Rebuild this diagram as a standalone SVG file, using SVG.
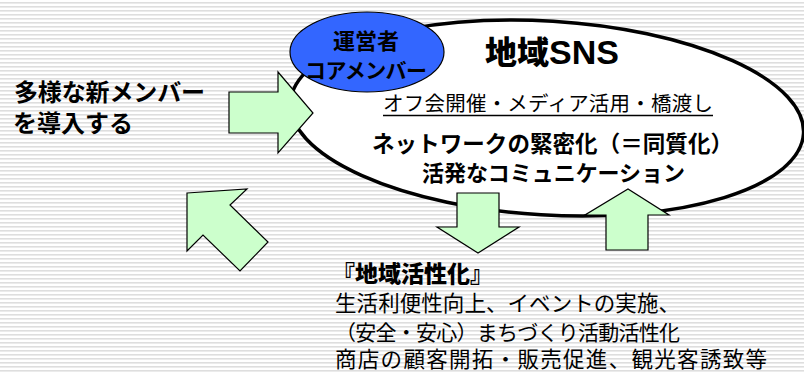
<svg xmlns="http://www.w3.org/2000/svg" width="804" height="372" viewBox="0 0 804 372">
  <defs>
    <pattern id="stripes" x="0" y="0" width="8" height="4" patternUnits="userSpaceOnUse">
      <rect x="0" y="0" width="8" height="4" fill="#ffffff"/>
      <rect x="0" y="2" width="8" height="1.6" fill="#dedede"/>
    </pattern>
  </defs>
  <style>
    text { font-family: "Noto Sans CJK JP", "Noto Sans", sans-serif; fill: #000; }
    .b { font-weight: 700; }
    .xb { font-weight: 900; }
    .lat { font-family: "Liberation Sans", Arial, sans-serif; font-weight: 700; }
    .arrow { fill: #ccffcc; stroke: #000; stroke-width: 1.2; stroke-linejoin: miter; }
  </style>
  <rect x="0" y="0" width="804" height="372" fill="url(#stripes)"/>

  <g id="sns">
    <ellipse cx="547" cy="118" rx="257" ry="97" transform="rotate(3.5 547 118)" fill="#ffffff" stroke="#000" stroke-width="3.5"/>
    <text class="xb" x="485" y="64" font-size="32">地域<tspan class="lat" font-size="34">SNS</tspan></text>
    <text x="383" y="111" font-size="20.5" textLength="330">オフ会開催・メディア活用・橋渡し</text>
    <line x1="383" y1="115.5" x2="713" y2="115.5" stroke="#000" stroke-width="1.3"/>
    <text class="b" x="372" y="152" font-size="22.5" textLength="361">ネットワークの緊密化（＝同質化）</text>
    <text class="b" x="422" y="181" font-size="22" textLength="263">活発なコミュニケーション</text>
  </g>

  <g id="core">
    <ellipse cx="367" cy="52" rx="77" ry="40" fill="#3366ff" stroke="#000" stroke-width="1.2"/>
    <text class="b" x="366" y="49" font-size="22" text-anchor="middle">運営者</text>
    <text class="b" x="305" y="78" font-size="21" textLength="122">コアメンバー</text>
  </g>

  <g id="newmembers">
    <text class="b" x="14" y="101" font-size="24" textLength="191">多様な新メンバー</text>
    <text class="b" x="13" y="132" font-size="24" textLength="120">を導入する</text>
  </g>

  <g id="revitalization">
    <text class="xb" x="332" y="282" font-size="23" textLength="161">『地域活性化』</text>
    <text x="335" y="311" font-size="21.5" textLength="345">生活利便性向上、イベントの実施、</text>
    <text x="335" y="340" font-size="21" textLength="345">（安全・安心）まちづくり活動活性化</text>
    <text x="335" y="367" font-size="21.5" textLength="432">商店の顧客開拓・販売促進、観光客誘致等</text>
  </g>

  <g id="connectors">
    <polygon class="arrow" points="229,92 278,92 278,72 313,113 278,153 278,133 229,133"/>
    <polygon class="arrow" points="457,193 499,193 499,227 519,227 478,253 437,227 457,227"/>
    <polygon class="arrow" points="606,250 648,250 648,215 669,215 628,189 585,215 606,215"/>
    <polygon class="arrow" points="187,193 247,189 230,205 268,242 240,271 203,235 187,251"/>
  </g>
</svg>
